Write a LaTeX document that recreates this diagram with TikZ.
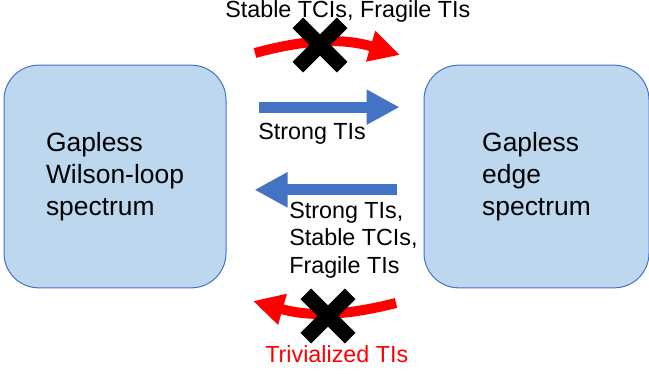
\documentclass[tikz,border=0pt]{standalone}
\usepackage{fontspec}
\setmainfont{Liberation Sans}
\usetikzlibrary{arrows.meta,positioning,shapes.misc}
\definecolor{Panel}{HTML}{BDD7EE}
\definecolor{Frame}{HTML}{4472C4}
\definecolor{Flow}{HTML}{4472C4}
\definecolor{Block}{HTML}{FF0000}

\begin{document}
\begin{tikzpicture}[
  x=0.75pt,y=-0.75pt,
  specbox/.style={rounded corners=26pt,draw=Frame,fill=Panel,line width=0.75pt,minimum width=166.5pt,minimum height=167pt,align=left,inner sep=0pt,font=\fontsize{19.8}{23.8}\selectfont},
  note/.style={inner sep=0pt,align=left,font=\fontsize{17.5}{20.5}\selectfont},
  bluearrow/.style={draw=Flow,line width=8.25pt,-{Triangle[length=24.75pt,width=24.75pt]}},
  redarrow/.style={draw=Block,line width=7.5pt,-{Triangle[length=23pt,width=22.5pt]}},
  xmark/.style={cross out,draw=black,line width=11.25pt,inner sep=0pt,minimum size=22pt}
]
\useasboundingbox (0,0) rectangle (649,374);
\node[specbox] (wl) at (115,176.5) {Gapless\\Wilson-loop\\spectrum};
\node[specbox,right=147.75pt of wl,minimum width=168.75pt] (edge) {Gapless\\edge\\spectrum};
% blue arrows between the boxes
\draw[bluearrow,shorten <=24pt,shorten >=18pt] ([yshift=52pt]wl.east) -- ([yshift=52pt]edge.west);
\draw[bluearrow,shorten <=20pt,shorten >=21pt] ([yshift=-10pt]edge.west) -- ([yshift=-10pt]wl.east);
% red arcs, crossed out
\coordinate (ts) at (255,53);
\coordinate (te) at (400,55);
\coordinate (bs) at (396,303);
\coordinate (be) at (253,301);
\draw[redarrow] (ts) to[bend left=16] (te);
\draw[redarrow] (bs) to[bend left=15] (be);
\node[xmark] (xtop) at (320,45) {};
\node[xmark] (xbot) at (328,316) {};
% labels
\node[note,anchor=base west] (fwd) at (225,18) {Stable TCIs, Fragile TIs};
\node[note,anchor=base west] (strong) at (258,140) {Strong TIs};
\node[note,anchor=north west] (back) at (289,202) {Strong TIs,\\Stable TCIs,\\Fragile TIs};
\node[note,anchor=base west,text=Block] (triv) at (265,362) {Trivialized TIs};
\end{tikzpicture}
\end{document}
